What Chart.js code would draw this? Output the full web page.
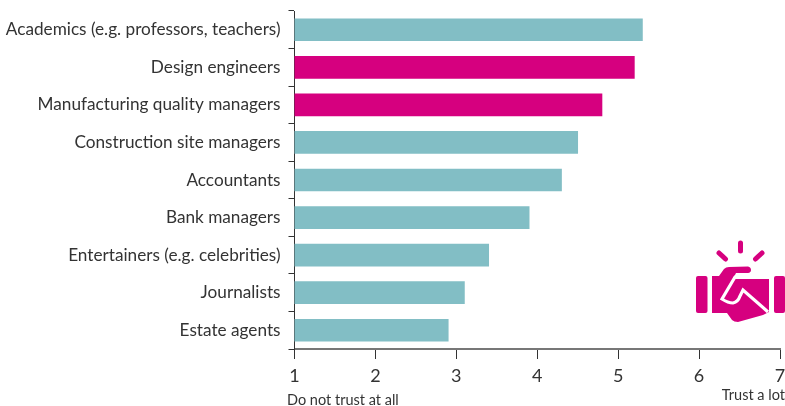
<!DOCTYPE html>
<html>
<head>
<meta charset="utf-8">
<style>
  body { margin: 0; background: #fff; }
  #wrap { position: relative; width: 785px; height: 406px; }
  #icon { position: absolute; left: 0; top: 0; pointer-events: none; }
</style>
</head>
<body>
<div id="wrap">
  <canvas id="chart1" width="785" height="406"></canvas>
  <svg id="icon" width="785" height="406">
    <g fill="#d6007f">
      <rect x="696" y="276" width="11.5" height="37" rx="2"/>
      <rect x="774" y="276" width="11" height="37" rx="2"/>
      <path d="M712 276 L719 276 L724 269 Q726 267 729 267 L748 266.5 Q751 267 751 270 Q751 272.5 748 273 L736 273 L733 279 L769 279 L769 312 L763 315 L738 322 Q734 322 732 320 L727 313 L712 313 Z"/>
    </g>
    <g fill="none" stroke="#d6007f" stroke-width="5" stroke-linecap="round">
      <path d="M740.5 243 L740.5 251"/>
      <path d="M719 253 L725.5 259"/>
      <path d="M762 253 L755.5 259"/>
    </g>
    <path d="M751 277 L735 277 L722 299 Q728 303 733 303 Q738 302 740 296 L743 290 L768 312" fill="none" stroke="#fff" stroke-width="3.2"/>
  </svg>
</div>
<script src="https://cdn.jsdelivr.net/npm/chart.js@4"></script>
<script>
const kategoriler = [
    "Academics (e.g. professors, teachers)",
    "Design engineers",
    "Manufacturing quality managers",
    "Construction site managers",
    "Accountants",
    "Bank managers",
    "Entertainers (e.g. celebrities)",
    "Journalists",
    "Estate agents"
];
const degerler = [5.3, 5.2, 4.8, 4.5, 4.3, 3.9, 3.4, 3.1, 2.9];
const renkler = ["#82bec5", "#d6007f", "#d6007f", "#82bec5", "#82bec5", "#82bec5", "#82bec5", "#82bec5", "#82bec5"];
const xTikler = [1, 2, 3, 4, 5, 6, 7];
const solEtiket = "Do not trust at all";
const sagEtiket = "Trust a lot";

const yazi = "Lato, sans-serif";

// alt etiketler
const altYazilar = {
    id: "altYazilar",
    afterDraw(chart) {
        const ctx = chart.ctx;
        ctx.save();
        ctx.font = "14.5px " + yazi;
        ctx.fillStyle = "#333";
        ctx.textBaseline = "alphabetic";
        ctx.textAlign = "left";
        ctx.fillText(solEtiket, 287, 405);
        ctx.textAlign = "right";
        ctx.fillText(sagEtiket, 785, 400);
        ctx.restore();
    }
};

new Chart(document.getElementById("chart1"), {
    type: "bar",
    data: {
        labels: kategoriler,
        datasets: [{
            data: degerler,
            backgroundColor: renkler,
            barThickness: 22
        }]
    },
    options: {
        indexAxis: "y",
        responsive: false,
        animation: false,
        layout: { padding: { top: 11, right: 5, left: 0, bottom: 0 } },
        plugins: {
            legend: { display: false },
            tooltip: { enabled: false }
        },
        scales: {
            x: {
                min: 1,
                max: 7,
                afterFit(s) { s.height = 57; s.paddingLeft = 0; s.paddingRight = 0; },
                afterBuildTicks(s) { s.ticks = xTikler.map(v => ({ value: v })); },
                border: { color: "#777", width: 2 },
                grid: { drawOnChartArea: false, color: "#333", tickLength: 10, tickWidth: 1 },
                ticks: {
                    color: "#333",
                    padding: 6,
                    maxRotation: 0,
                    font: { family: yazi, size: 18 }
                }
            },
            y: {
                afterFit(s) { s.width = 294.5; s.paddingTop = 0; s.paddingBottom = 0; },
                border: { color: "#333", width: 1 },
                grid: { drawOnChartArea: false, color: "#333", tickLength: 6, tickWidth: 1 },
                ticks: {
                    color: "#333",
                    padding: 8,
                    autoSkip: false,
                    font: { family: yazi, size: 17.2 }
                }
            }
        }
    },
    plugins: [altYazilar]
});
</script>
</body>
</html>
